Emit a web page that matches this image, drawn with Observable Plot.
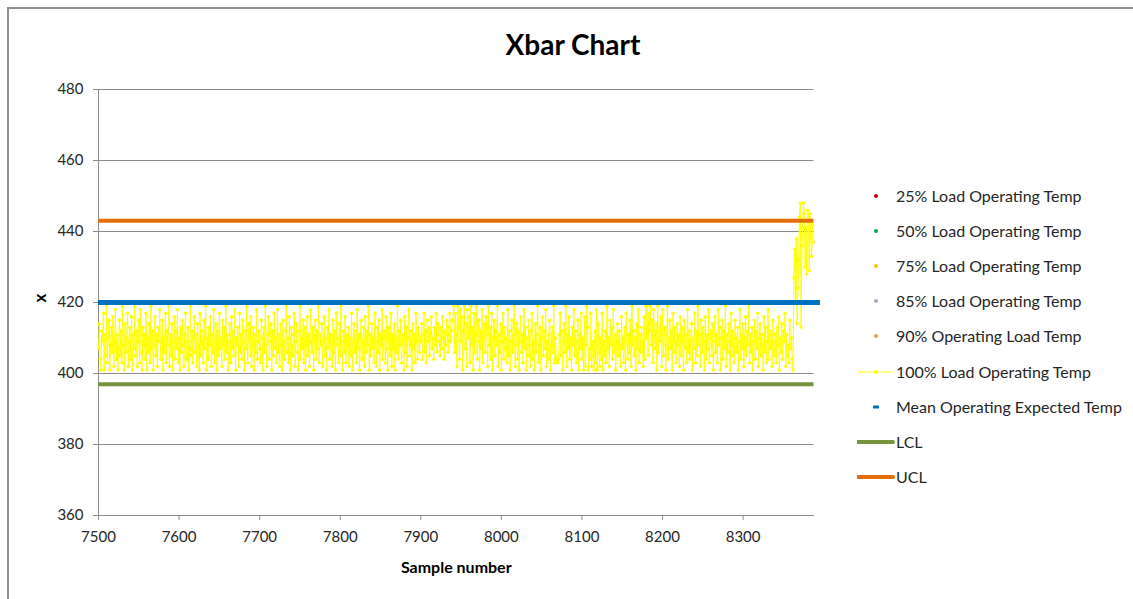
<!DOCTYPE html>
<html>
<head>
<meta charset="utf-8">
<script src="https://cdn.jsdelivr.net/npm/d3@7"></script>
<script src="https://cdn.jsdelivr.net/npm/@observablehq/plot@0.6"></script>
<style>
  html, body { margin: 0; padding: 0; background: #fff; }
  body { font-family: Lato, "Open Sans", sans-serif; color: #262626; }
  #wrap { position: relative; width: 1133px; height: 599px; overflow: hidden; background: #fff; }
  #frame { position: absolute; left: 7px; top: 7px; width: 1400px; height: 900px; border: 2px solid #8f8f8f; box-sizing: border-box; }
  #chart { position: absolute; left: 0; top: 0; }
  #title { position: absolute; left: 473px; width: 200px; top: 27px; text-align: center; font-weight: bold; font-size: 28px; line-height: 34px; color: #000; white-space: nowrap; }
  .leg { position: absolute; left: 857px; height: 20px; line-height: 20px; font-size: 16px; white-space: nowrap; color: #262626; }
  .leg svg { position: absolute; left: 0; top: 0; }
  .leg span { position: absolute; left: 39px; top: 0; }
</style>
</head>
<body>
<div id="wrap">
  <div id="frame"></div>
  <div id="chart"></div>
  <div id="title">Xbar Chart</div>
  <div id="legend"></div>
</div>
<script>
// ---- data ----
const startSample = 7500;
const temp100 = [
407,414,404,401,412,409,417,401,411,405,419,403,410,415,401,408,413,406,416,402,409,418,404,411,401,407,415,405,412,403,419,408,401,414,406,410,417,402,409,413,
404,416,401,411,407,419,405,412,402,409,415,403,418,406,401,413,408,411,404,417,401,410,406,414,403,419,407,412,401,408,416,405,411,402,413,409,418,404,407,415,
401,410,406,417,403,412,408,419,402,411,405,414,401,409,416,404,412,407,418,403,410,401,413,406,415,408,402,411,417,404,409,413,401,407,419,405,412,403,410,416,
406,411,402,414,408,401,417,405,412,409,403,415,407,419,401,410,404,413,408,416,402,411,406,418,403,409,414,401,412,405,417,407,410,402,415,408,413,404,419,406,
411,401,409,414,403,416,407,412,405,418,401,410,408,413,402,417,406,411,404,415,409,401,412,407,419,403,410,414,405,416,402,408,413,401,411,406,418,404,409,412,
407,403,415,410,401,413,406,419,408,402,411,416,404,409,414,401,412,405,417,407,410,403,418,406,411,402,414,408,401,415,409,404,412,419,406,410,403,416,401,413,
408,405,411,417,402,409,414,406,401,412,419,404,410,407,415,403,413,401,408,416,405,411,402,418,409,406,413,401,410,415,404,412,407,419,403,411,408,414,402,409,
416,405,410,401,413,407,418,404,411,409,402,415,406,412,401,417,408,410,403,414,405,419,409,401,412,406,416,403,411,408,413,402,410,405,417,401,409,414,406,412,
403,418,407,411,401,410,415,404,409,413,402,416,406,412,408,419,401,411,405,414,407,410,403,417,409,402,413,406,415,401,411,408,418,404,410,412,403,416,407,401,
413,409,405,417,402,411,407,414,401,410,406,419,404,412,408,415,403,409,411,401,416,406,413,402,410,418,405,408,412,401,414,407,411,403,417,409,404,413,406,410,
409,414,404,411,417,406,412,403,415,409,413,405,411,416,407,410,404,413,408,417,406,411,414,409,405,413,407,416,410,404,412,408,415,411,406,413,417,409,412,415,
415,419,406,417,411,402,419,413,404,418,409,416,401,412,419,407,414,402,418,410,416,403,419,408,413,401,417,406,411,419,404,409,415,401,412,407,418,403,410,414,
406,416,411,402,419,408,413,404,417,401,410,415,405,412,408,419,402,411,406,414,401,409,417,404,413,407,410,403,418,405,412,401,409,415,406,411,419,402,408,414,
404,412,401,409,416,406,411,403,418,407,413,401,410,405,415,408,402,412,417,404,409,401,414,406,411,419,403,408,413,401,410,416,405,412,407,418,402,409,404,411,
415,401,408,413,406,419,403,410,404,403,403,404,411,417,405,412,401,409,414,406,419,402,411,407,416,404,410,401,413,408,418,405,412,403,409,415,401,411,407,417,
404,410,401,416,402,408,419,413,401,407,404,417,402,409,405,401,412,403,418,401,414,406,402,410,404,417,401,409,405,412,403,419,407,410,402,415,408,413,404,418,
406,411,401,409,414,405,412,408,402,416,407,410,403,413,401,417,409,404,411,406,415,402,419,408,412,405,410,401,414,407,418,403,411,406,413,409,402,416,404,419,
410,419,405,417,412,419,408,415,403,418,411,407,414,401,419,406,412,409,416,402,418,405,411,413,401,408,419,404,410,415,407,412,401,417,406,413,409,403,414,408,
411,402,416,405,413,409,401,415,407,411,403,418,406,412,404,409,414,401,410,407,417,403,412,405,419,408,411,402,415,406,413,409,401,416,404,411,407,418,403,410,
412,405,414,401,409,416,406,411,403,418,408,413,401,410,415,404,412,407,419,402,411,406,414,409,401,417,405,412,408,403,415,410,406,413,401,409,418,404,411,407,
414,402,410,416,405,412,408,419,403,411,406,413,401,409,415,404,412,407,417,402,410,414,405,411,408,401,416,406,413,403,409,418,404,411,407,412,402,415,409,405,
411,403,413,408,416,401,410,406,414,404,412,409,417,402,411,405,408,403,415,407,410,404,401,
427,435,420,438,414,424,432,444,448,413,436,441,448,445,430,441,428,446,445,429,445,438,433,442,437
];
const meanTemp = 420;
const lclValue = 397;
const uclValue = 443;
const lineEndSample = 8388;
const meanEndSample = 8396;
const xTicks = [7500, 7600, 7700, 7800, 7900, 8000, 8100, 8200, 8300];
const yTicks = [360, 380, 400, 420, 440, 460, 480];
const legendLabels = [
  "25% Load Operating Temp",
  "50% Load Operating Temp",
  "75% Load Operating Temp",
  "85% Load Operating Temp",
  "90% Operating Load Temp",
  "100% Load Operating Temp",
  "Mean Operating Expected Temp",
  "LCL",
  "UCL"
];
const legendColors = ["#c00000", "#00b050", "#ffc000", "#b3a2c7", "#f79646", "#ffff00", "#0070c0", "#77933c", "#e46c0a"];
const legendKinds = ["dot", "dot", "dot", "dot", "dot", "lineDot", "dash", "line", "line"];

// ---- table ----
const rows = temp100.map((v, i) => ({ sample: startSample + i, temp: v }));

const chart = Plot.plot({
  width: 1133,
  height: 599,
  marginLeft: 98,
  marginRight: 1133 - 813.5,
  marginTop: 89,
  marginBottom: 599 - 515,
  style: { fontFamily: "Lato, 'Open Sans', sans-serif", fontSize: "15px", color: "#262626", background: "transparent", overflow: "visible" },
  x: { domain: [startSample, lineEndSample], label: null },
  y: { domain: [360, 480], label: null },
  marks: [
    Plot.gridY(yTicks, { stroke: "#8c8c8c", strokeOpacity: 1, strokeWidth: 1 }),
    Plot.ruleX([startSample], { stroke: "#8c8c8c", strokeWidth: 1 }),
    Plot.ruleY([360], { stroke: "#8c8c8c", strokeWidth: 1 }),
    Plot.axisY(yTicks, { tickSize: 5, tickPadding: 10, stroke: "#8c8c8c", fill: "#262626", label: null, fontSize: 15 }),
    Plot.axisX(xTicks, { tickSize: 5, tickPadding: 11, stroke: "#8c8c8c", fill: "#262626", label: null, fontSize: 15, tickFormat: d => String(d) }),
    Plot.line(rows, { x: "sample", y: "temp", stroke: "#ffff00", strokeWidth: 1 }),
    Plot.dot(rows, { x: "sample", y: "temp", r: 1.7, fill: "#ffff00", stroke: null }),
    Plot.ruleY([meanTemp], { x1: startSample, x2: meanEndSample, stroke: "#0070c0", strokeWidth: 5 }),
    Plot.ruleY([lclValue], { x1: startSample, x2: lineEndSample, stroke: "#77933c", strokeWidth: 4 }),
    Plot.ruleY([uclValue], { x1: startSample, x2: lineEndSample, stroke: "#e46c0a", strokeWidth: 4 }),
    Plot.text(["Sample number"], { frameAnchor: "bottom", dy: 57, fontWeight: "bold", fontSize: 16, fill: "#000" }),
    Plot.text(["x"], { frameAnchor: "left", dx: -58, rotate: -90, fontWeight: "bold", fontSize: 17, fill: "#000" })
  ]
});
document.getElementById("chart").appendChild(chart);

// ---- legend ----
const legendTop = 196, legendStep = 35.1;
const legend = document.getElementById("legend");
legendLabels.forEach((lab, i) => {
  const row = document.createElement("div");
  row.className = "leg";
  row.style.top = (legendTop + i * legendStep - 10) + "px";
  const c = legendColors[i];
  let sw = "";
  if (legendKinds[i] === "dot") sw = `<circle cx="19" cy="10" r="2" fill="${c}"/>`;
  else if (legendKinds[i] === "lineDot") sw = `<line x1="1" x2="36" y1="10" y2="10" stroke="${c}" stroke-width="1"/><circle cx="19" cy="10" r="2" fill="${c}"/>`;
  else if (legendKinds[i] === "dash") sw = `<rect x="16" y="8.5" width="6" height="3" fill="${c}"/>`;
  else sw = `<line x1="1" x2="36" y1="10" y2="10" stroke="${c}" stroke-width="4" stroke-linecap="round"/>`;
  row.innerHTML = `<svg width="38" height="20">${sw}</svg><span>${lab}</span>`;
  legend.appendChild(row);
});
</script>
</body>
</html>
